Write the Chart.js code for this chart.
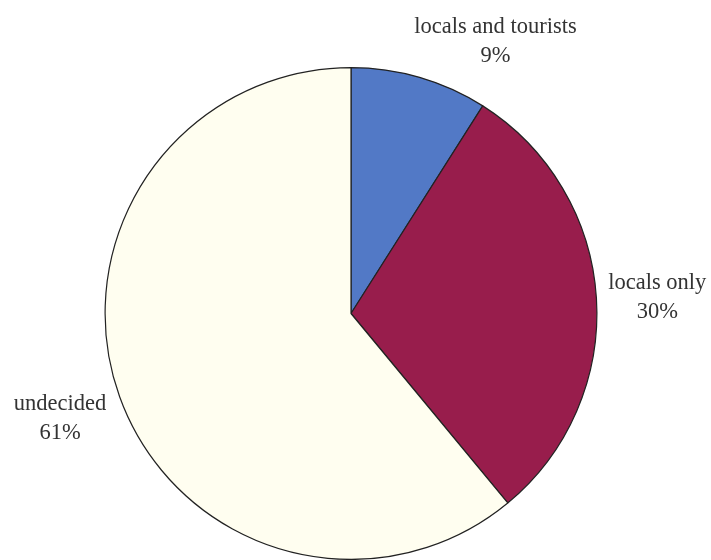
<!DOCTYPE html>
<html>
<head>
<meta charset="utf-8">
<script src="https://cdn.jsdelivr.net/npm/chart.js@4/dist/chart.umd.min.js"></script>
<style>
html,body{margin:0;padding:0;background:#fff;}
#wrap{width:711px;height:560px;position:relative;}
</style>
</head>
<body>
<div id="wrap"><canvas id="c" width="711" height="560"></canvas></div>
<script>
const categories = ["locals and tourists", "locals only", "undecided"];
const values = [9, 30, 61];
const valueLabels = ["9%", "30%", "61%"];
const colors = ["#5279c6", "#981d4c", "#fffef0"];

const labelPlugin = {
  id: 'outsideLabels',
  afterDatasetsDraw(chart, args, opts) {
    const ctx = chart.ctx;
    const meta = chart.getDatasetMeta(0);
    ctx.save();
    ctx.font = '22.5px "Liberation Serif", "Times New Roman", serif';
    ctx.fillStyle = '#333';
    ctx.textAlign = 'center';
    ctx.textBaseline = 'middle';
    meta.data.forEach((arc, i) => {
      const p = arc.getProps(['x','y','startAngle','endAngle','outerRadius']);
      const mid = (p.startAngle + p.endAngle) / 2;
      const r = p.outerRadius + opts.gap;
      const adj = opts.adjust[i];
      const x = p.x + Math.cos(mid) * r + adj[0];
      const y = p.y + Math.sin(mid) * r + adj[1];
      ctx.fillText(categories[i], x, y - 14.5);
      ctx.fillText(valueLabels[i], x, y + 14.5);
    });
    ctx.restore();
  }
};

new Chart(document.getElementById('c'), {
  type: 'pie',
  data: {
    labels: categories,
    datasets: [{
      data: values,
      backgroundColor: colors,
      borderColor: '#222',
      borderWidth: 1.2
    }]
  },
  options: {
    responsive: false,
    animation: false,
    layout: { padding: { top: 67, bottom: 0, left: 0, right: 9 } },
    plugins: {
      legend: { display: false },
      tooltip: { enabled: false },
      outsideLabels: { gap: 57, adjust: [[60, 19], [4, 3], [-6, 2]] }
    }
  },
  plugins: [labelPlugin]
});
</script>
</body>
</html>
